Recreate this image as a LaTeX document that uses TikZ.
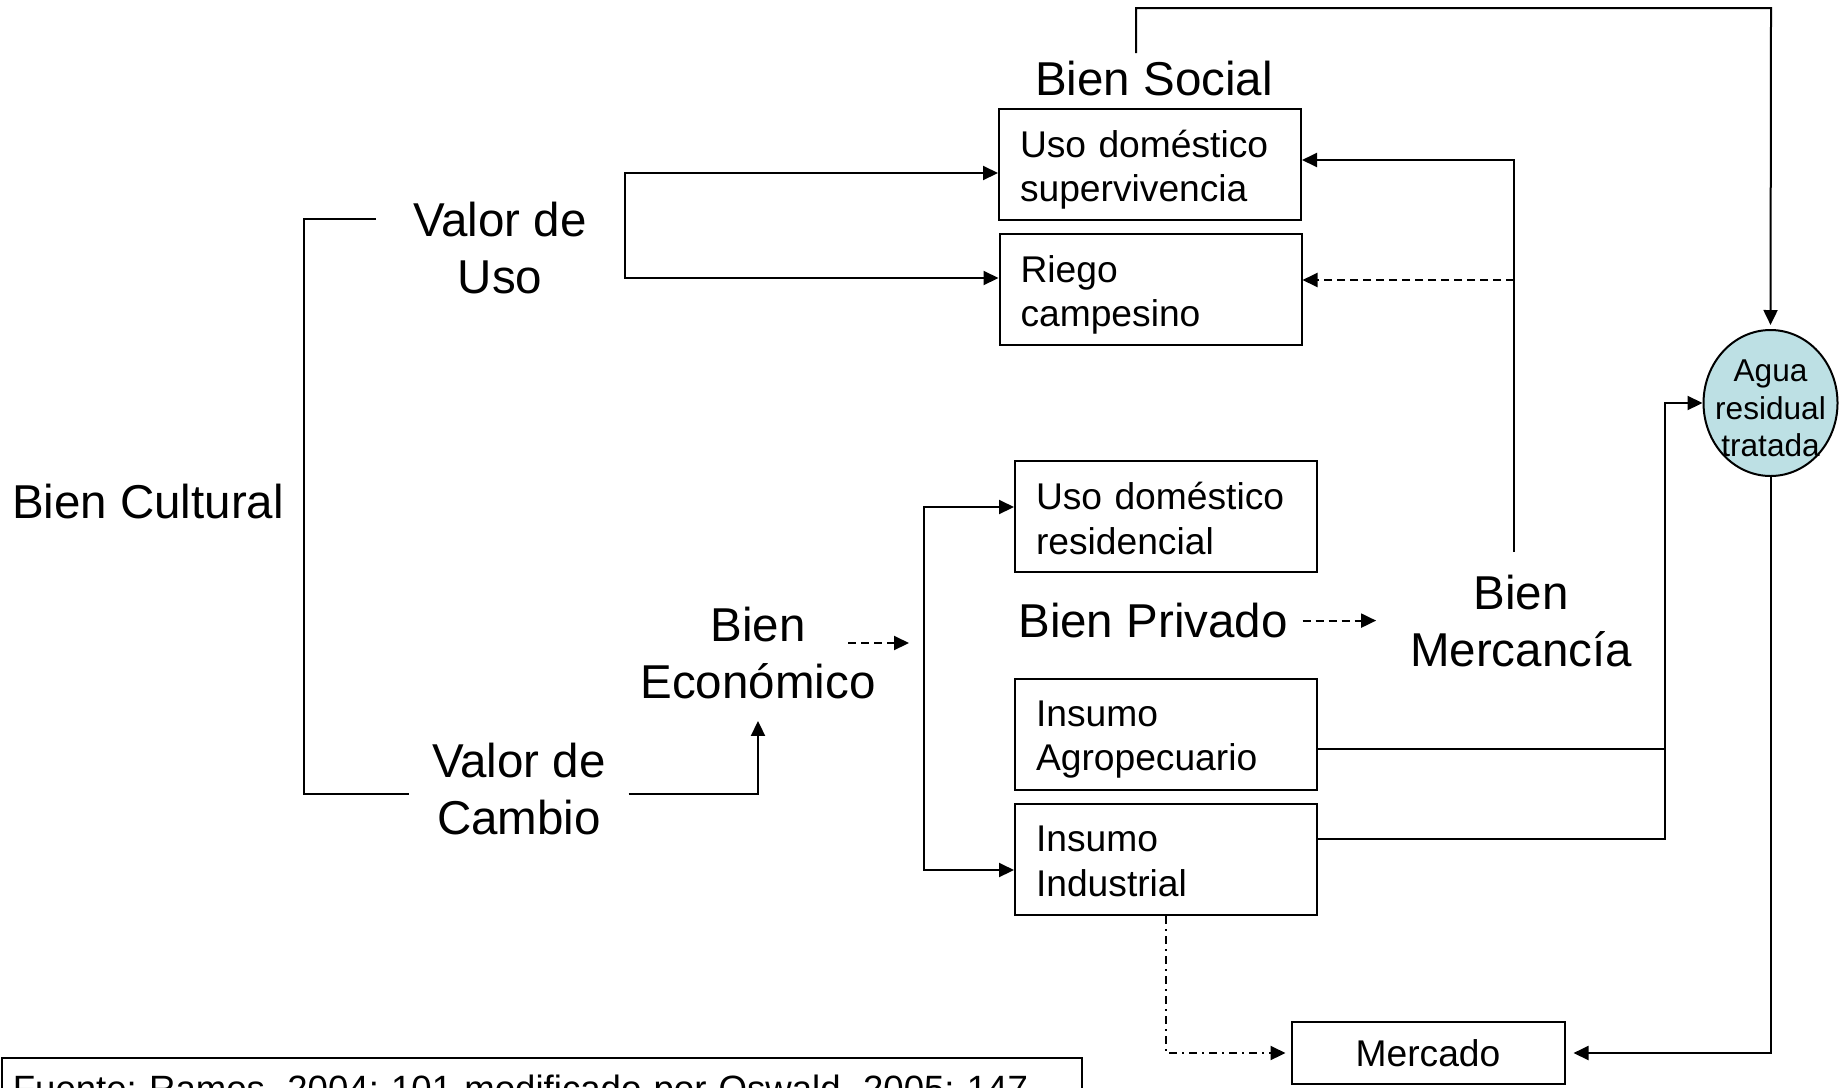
\documentclass[tikz,border=0pt]{standalone}
\usepackage{fontspec}
\setmainfont{Liberation Sans}
\usetikzlibrary{arrows.meta,positioning,calc,shapes.geometric}
\definecolor{aguafill}{RGB}{189,224,228}

\begin{document}
\frenchspacing
\begin{tikzpicture}[x=.5pt,y=-.5pt,>={Triangle[length=7.5pt,width=7pt]},line width=1pt,
 big/.style={align=center,inner xsep=11pt,inner ysep=10.5pt,font=\fontsize{23.75}{28.5}\selectfont},
 box/.style={draw,align=left,text width=130pt,text depth=21pt,inner xsep=10.5pt,minimum height=55.5pt,font=\fontsize{18.6}{22.4}\selectfont},
 pill/.style={draw,ellipse,fill=aguafill,inner sep=0pt,minimum width=67pt,minimum height=73pt},
 pilltxt/.style={align=center,yshift=-2.8pt,font=\fontsize{15.8}{18.8}\selectfont},
 dotdash/.style={dash pattern=on 4pt off 2.5pt on 1pt off 2.5pt},
 dashed/.style={dash pattern=on 4pt off 2.5pt}]
 \useasboundingbox (0,0) rectangle (1845,1087);
 % text labels
 \node[big] (bcult) at (148,502) {Bien Cultural};
 \node[big] (vuso) at (500,248) {Valor de\\Uso};
 \node[big] (vcambio) at (519,789) {Valor de\\Cambio};
 \node[big] (beco) at (758,653) {Bien\\Económico};
 \node[big] (bsocial) at (1154,79) {Bien Social};
 \node[big] (bpriv) at (1153,620.6) {Bien Privado};
 \node[big] (bmerc) at (1521,621) {Bien\\Mercancía};
 % boxes
 \node[box] (b1) at (1150,164.5) {Uso doméstico\\supervivencia};
 \node[box] (b2) at (1150.5,289.6) {Riego\\campesino};
 \node[box] (b3) at (1166,516.6) {Uso doméstico\\residencial};
 \node[box] (b4) at (1166,734.3) {Insumo\\Agropecuario};
 \node[box] (b5) at (1166,859.8) {Insumo\\Industrial};
 \node[draw,minimum width=136.5pt,minimum height=31.3pt,font=\fontsize{18.6}{22.4}\selectfont] (merc) at (1428,1053) {Mercado};
 \node[pill,label={[pilltxt]center:Agua\\residual\\tratada}] (agua) at (1770.5,403) {};
 \node[draw,anchor=north west,align=left,text width=529pt,inner xsep=5.4pt,inner ysep=8.6pt,font=\fontsize{18.3}{22}\selectfont] (fuente) at (1,1056.7) {Fuente: Ramos, 2004: 101 modificado por Oswald, 2005: 147};
 % free ends
 \coordinate (bu) at (376,219);
 \coordinate (bc) at (304,794);
 \coordinate (fu1) at (625,173);
 \coordinate (fu2) at (625,278);
 \coordinate (ea) at (848,643);
 \coordinate (eb) at (909,643);
 \coordinate (fe1) at (924,507);
 \coordinate (fe2) at (924,870);
 \coordinate (mu) at (1514,552);
 \coordinate (md) at (1514,280);
 \coordinate (sl) at (1136,53);
 \coordinate (tr) at (1771,8);
 \coordinate (jn) at (1665,839);
 % connectors
 \draw (bu) -| (bc) -- (bc -| vcambio.west);
 \draw[->] (bc -| vcambio.east) -| (beco.south);
 \draw[<->] (fu1 -| b1.west) -- (fu1) -- (fu2) -- (fu2 -| b2.west);
 \draw[dashed,->] (ea) -- (eb);
 \draw[<->] (fe1 -| b3.west) -- (fe1) -- (fe2) -- (fe2 -| b5.west);
 \draw[dashed,->,shorten <=-4pt,shorten >=5.5pt] (bpriv.east) -- (bpriv.east -| bmerc.west);
 \draw[->] (mu) |- ([yshift=2.25pt]b1.east);
 \draw[dashed,->] (md) -- (md -| b2.east);
 \draw[->,shorten >=2pt] (sl) |- (tr) -- (agua.north);
 \draw ([yshift=-7.1pt]b4.east) -- ([yshift=-7.1pt]b4.east -| jn);
 \draw[->] ([yshift=10.4pt]b5.east) -- (jn) |- (agua.west);
 \draw[->,shorten >=4pt] (agua.south) |- (merc.east);
 \draw[dotdash,->,shorten >=2.5pt] (b5.south) |- (merc.west);
\end{tikzpicture}
\end{document}
